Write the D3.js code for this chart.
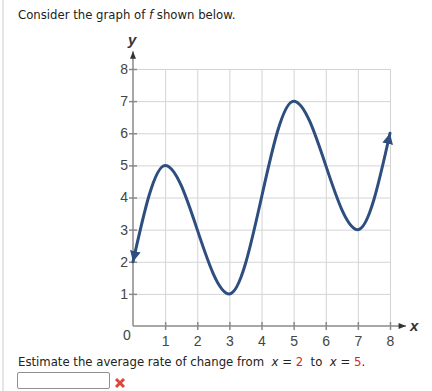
<html>
<head>
  <script src="https://d3js.org/d3.v7.min.js"></script>
  <style>
    body { margin: 0; background: #fff; }
    .grid line { stroke: #d4d4d4; stroke-width: 1; }
    .grid .domain { stroke: none; }
    .axis line { stroke: #8a8a8a; stroke-width: 1.5; }
    .prompt { font-family: "DejaVu Sans", Verdana, sans-serif; font-size: 11.7px; fill: #222; }
  </style>
</head>
<body>
<svg id="graph" width="432" height="391"></svg>

<script>
  // values
  const xTicks = [1, 2, 3, 4, 5, 6, 7, 8];
  const yTicks = [1, 2, 3, 4, 5, 6, 7, 8];
  const curveX = [0, 1, 3, 5, 7, 8];
  const curveY = [2, 5, 1, 7, 3, 6];
  const fromX = 2, toX = 5;

  const svg = d3.select("svg#graph");
  const labelFont = "Liberation Sans";

  const xScale = d3.scaleLinear().domain([0, 8]).range([133, 390]);
  const yScale = d3.scaleLinear().domain([0, 8]).range([326, 69]);

  // page border
  svg.append("line").attr("x1", 3).attr("x2", 3).attr("y1", 0).attr("y2", 391)
     .attr("stroke", "#dcdcdc").attr("stroke-width", 1.5);

  svg.append("text").attr("class", "prompt").attr("x", 18).attr("y", 19)
     .html('Consider the graph of <tspan font-style="italic">f</tspan> shown below.');

  const defs = svg.append("defs");
  defs.append("marker").attr("id", "curveArrow")
    .attr("viewBox", "0 0 10 10").attr("refX", 10).attr("refY", 5)
    .attr("markerWidth", 3.6).attr("markerHeight", 3.6)
    .attr("markerUnits", "strokeWidth")
    .attr("orient", "auto-start-reverse")
    .append("path").attr("d", "M0,0 L10,5 L0,10 Z").attr("fill", "#2d4e7e");
  defs.append("marker").attr("id", "axisArrow")
    .attr("viewBox", "0 0 10 10").attr("refX", 10).attr("refY", 5)
    .attr("markerWidth", 6).attr("markerHeight", 5)
    .attr("markerUnits", "strokeWidth")
    .attr("orient", "auto")
    .append("path").attr("d", "M0,1 L10,5 L0,9 Z").attr("fill", "#333");

  // gridlines
  svg.append("g").attr("class", "grid")
    .attr("transform", "translate(0," + yScale(0) + ")")
    .call(d3.axisBottom(xScale).tickValues(xTicks).tickSize(-(yScale(0) - yScale(8))).tickFormat(""));
  svg.append("g").attr("class", "grid")
    .attr("transform", "translate(" + xScale(0) + ",0)")
    .call(d3.axisLeft(yScale).tickValues(yTicks).tickSize(-(xScale(8) - xScale(0))).tickFormat(""));

  // axes
  const xAxis = svg.append("g").attr("class", "axis")
    .attr("transform", "translate(0," + yScale(0) + ")")
    .call(d3.axisBottom(xScale).tickValues(xTicks).tickSize(4).tickSizeOuter(0).tickPadding(6));
  xAxis.select(".domain").remove();
  xAxis.selectAll(".tick line").attr("y1", -4);
  xAxis.append("line").attr("x1", xScale(0)).attr("x2", xScale(8.5)).attr("y1", 0).attr("y2", 0)
    .attr("stroke", "#8a8a8a").attr("stroke-width", 2).attr("marker-end", "url(#axisArrow)");

  const yAxis = svg.append("g").attr("class", "axis")
    .attr("transform", "translate(" + xScale(0) + ",0)")
    .call(d3.axisLeft(yScale).tickValues(yTicks).tickSize(4).tickSizeOuter(0).tickPadding(1));
  yAxis.select(".domain").remove();
  yAxis.selectAll(".tick line").attr("x1", 4);
  yAxis.append("line").attr("x1", 0).attr("x2", 0).attr("y1", yScale(0)).attr("y2", yScale(8.55))
    .attr("stroke", "#8a8a8a").attr("stroke-width", 2).attr("marker-end", "url(#axisArrow)");

  svg.selectAll(".axis").attr("font-family", labelFont).attr("font-size", 14);
  svg.selectAll(".axis text").attr("fill", "#444");

  svg.append("text").attr("x", xScale(0) - 10).attr("y", yScale(0) + 14)
    .attr("font-family", labelFont).attr("font-size", 14).attr("fill", "#444")
    .text("0");
  svg.append("text").attr("x", xScale(8.5) + 4).attr("y", yScale(0) + 5)
    .attr("font-family", labelFont).attr("font-size", 15)
    .attr("font-style", "italic").attr("font-weight", "bold").attr("fill", "#333").text("x");
  svg.append("text").attr("x", xScale(0) - 5).attr("y", yScale(8.55) - 6)
    .attr("font-family", labelFont).attr("font-size", 15)
    .attr("font-style", "italic").attr("font-weight", "bold").attr("fill", "#333").text("y");

  // curve of f
  const pts = curveX.map((x, i) => [x, curveY[i]]);
  const line = d3.line().x(d => xScale(d[0])).y(d => yScale(d[1])).curve(d3.curveMonotoneX);
  svg.append("path").datum(pts)
    .attr("d", line)
    .attr("fill", "none").attr("stroke", "#2d4e7e").attr("stroke-width", 3)
    .attr("stroke-linecap", "round")
    .attr("marker-start", "url(#curveArrow)").attr("marker-end", "url(#curveArrow)");

  // question
  svg.append("text").attr("class", "prompt").attr("x", 18).attr("y", 366)
    .html('Estimate the average rate of change from&#160; <tspan font-style="italic">x</tspan> = <tspan fill="#d9261c">' + fromX +
          '</tspan>&#160; to&#160; <tspan font-style="italic">x</tspan> = <tspan fill="#d9261c">' + toX + '</tspan>.');

  svg.append("rect").attr("x", 17.5).attr("y", 372.5).attr("width", 92).attr("height", 16)
    .attr("rx", 1.5).attr("fill", "#fff").attr("stroke", "#8f8f8f").attr("stroke-width", 1);

  const cross = svg.append("g").attr("transform", "translate(120,383)")
    .attr("stroke", "#e0453a").attr("stroke-width", 3).attr("stroke-linecap", "butt");
  cross.append("line").attr("x1", -4).attr("y1", -4).attr("x2", 4).attr("y2", 4);
  cross.append("line").attr("x1", -4).attr("y1", 4).attr("x2", 4).attr("y2", -4);
</script>
</body>
</html>
